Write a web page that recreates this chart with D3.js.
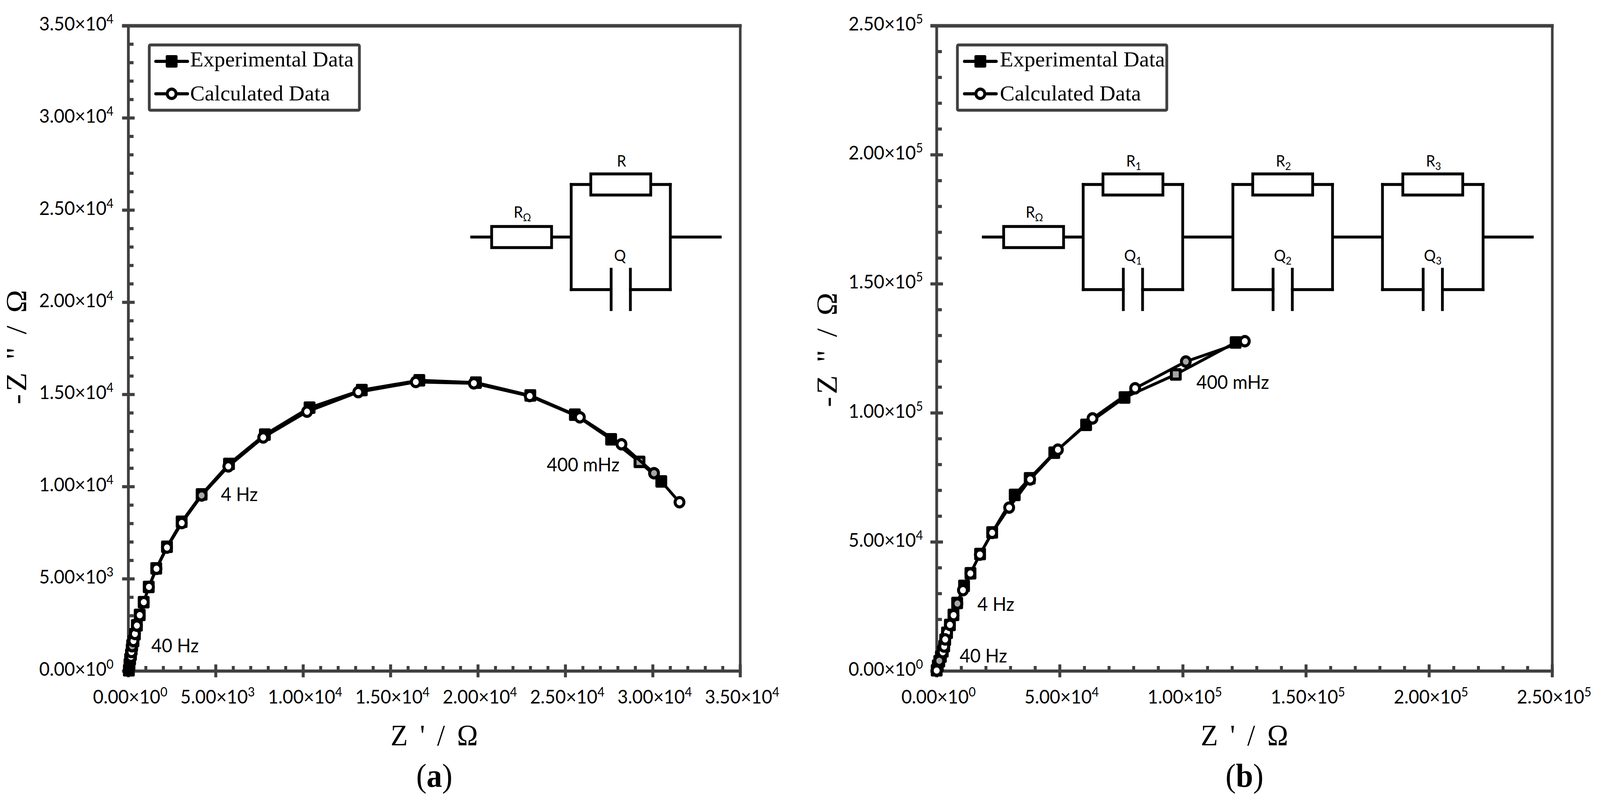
<!DOCTYPE html>
<html>
<head>
<meta charset="utf-8">
<script src="https://cdn.jsdelivr.net/npm/d3@7/dist/d3.min.js"></script>
<style>
  html, body { margin: 0; padding: 0; background: #fff; overflow: hidden; }
  svg { display: block; width: 100vw; height: 100vh; }
</style>
</head>
<body>
<svg id="chart" viewBox="0 0 4325 2052" preserveAspectRatio="none"></svg>
<script>
// panel (a), ordered from the origin outwards
var expXA = [28, 63, 100, 148, 190, 218, 290, 374, 487, 649, 875, 1164, 1595, 2208, 3047, 4190, 5755, 7808, 10365, 13352, 16642, 19880, 22990, 25540, 27614, 29236, 30483];
var expYA = [42, 360, 642, 890, 1172, 1400, 1632, 2000, 2480, 3050, 3738, 4565, 5569, 6741, 8098, 9582, 11236, 12826, 14289, 15243, 15773, 15646, 14950, 13907, 12572, 11349, 10289];
var calcXA = [148, 176, 218, 290, 374, 487, 649, 882, 1178, 1608, 2208, 3054, 4190, 5717, 7713, 10220, 13150, 16441, 19763, 22959, 25826, 28206, 30068, 31525];
var calcYA = [784, 1032, 1350, 1632, 2014, 2466, 3032, 3738, 4565, 5547, 6699, 8028, 9525, 11102, 12671, 14070, 15130, 15681, 15610, 14918, 13765, 12303, 10734, 9158];
var greyExpA = [25];
var greyCalcA = [2, 12, 22];

// panel (b)
var expXB = [0, 450, 1050, 1700, 2450, 3050, 3450, 4200, 5360, 6810, 8310, 11110, 13720, 17620, 22530, 31690, 37770, 47760, 60680, 76290, 97100, 121410];
var expYB = [303, 2070, 3835, 5600, 7620, 9640, 12160, 14840, 17870, 21750, 26400, 33000, 37900, 45370, 53700, 68270, 74700, 84590, 95380, 105980, 114930, 127320];
var calcXB = [0, 1050, 2450, 3050, 4200, 3450, 5360, 6860, 8410, 10660, 13670, 17530, 22530, 29430, 37950, 49230, 63280, 80590, 101180, 125130];
var calcYB = [200, 3980, 7300, 9500, 14940, 12260, 17910, 21650, 26150, 31340, 37800, 45120, 53550, 63340, 74250, 85780, 97880, 109550, 119910, 127800];
var greyExpB = [20];
var greyCalcB = [1, 8, 18];

var ticksA = [0, 5000, 10000, 15000, 20000, 25000, 30000, 35000];
var ticksB = [0, 50000, 100000, 150000, 200000, 250000];
var seriesNames = ["Experimental Data", "Calculated Data"];

var INK = "#000";
var AXIS = "#404040";
var GREY = "#a6a6a6";
var LABEL_FONT = "Lato, sans-serif";
var SERIF = "'Liberation Serif', serif";
var TOP = 66, BOTTOM = 1717;
var MARK_HALF = 12;

var svg = d3.select("#chart");

function sciParts(v) {
	if (v === 0) return ["0.00", "0"];
	var p = v.toExponential(2).split("e+");
	return [p[0], p[1]];
}

function writeTick(text, d) {
	var p = sciParts(d);
	text.text(null);
	text.append("tspan").text(p[0] + "×10");
	text.append("tspan").attr("dy", -18).attr("font-size", 33).text(p[1]);
}

function drawPanel(cfg) {
	var g = svg.append("g");
	var x = d3.scaleLinear().domain([0, cfg.max]).range([cfg.left, cfg.right]);
	var y = d3.scaleLinear().domain([0, cfg.max]).range([BOTTOM, TOP]);
	var minor = d3.range(0, cfg.max + 1, cfg.max / (cfg.ticks.length - 1) / 5)
		.filter(function(v){ return cfg.ticks.indexOf(v) < 0; });

	function styleAxis(sel) {
		sel.select(".domain").remove();
		sel.selectAll("line").attr("stroke", AXIS).attr("stroke-width", 8);
	}

	// inward ticks, minor then major
	g.append("g").attr("transform", "translate(0," + BOTTOM + ")")
		.call(d3.axisBottom(x).tickValues(minor).tickSize(-13).tickFormat("").offset(0)).call(styleAxis);
	g.append("g").attr("transform", "translate(" + cfg.left + ",0)")
		.call(d3.axisLeft(y).tickValues(minor).tickSize(-14).tickFormat("").offset(0)).call(styleAxis);
	g.append("g").attr("transform", "translate(0," + BOTTOM + ")")
		.call(d3.axisBottom(x).tickValues(cfg.ticks).tickSize(-17).tickFormat("").offset(0)).call(styleAxis);
	g.append("g").attr("transform", "translate(" + cfg.left + ",0)")
		.call(d3.axisLeft(y).tickValues(cfg.ticks).tickSize(-17).tickFormat("").offset(0)).call(styleAxis);

	// outward ticks carrying the labels
	var xAxis = g.append("g").attr("transform", "translate(0," + BOTTOM + ")")
		.call(d3.axisBottom(x).tickValues(cfg.ticks).tickSize(16).offset(0)).call(styleAxis);
	xAxis.selectAll("text")
		.attr("y", 83).attr("dy", 0).attr("x", 5)
		.attr("font-family", LABEL_FONT).attr("font-size", 49).attr("fill", INK)
		.each(function(d){ writeTick(d3.select(this), d); });

	var yAxis = g.append("g").attr("transform", "translate(" + cfg.left + ",0)")
		.call(d3.axisLeft(y).tickValues(cfg.ticks).tickSize(17).offset(0)).call(styleAxis);
	yAxis.selectAll("text")
		.attr("x", -cfg.yLabelGap).attr("dy", 12)
		.attr("text-anchor", "end")
		.attr("font-family", LABEL_FONT).attr("font-size", 49).attr("fill", INK)
		.each(function(d){ writeTick(d3.select(this), d); });

	// frame
	var frame = [
		[x(0) - 17, y(cfg.max), x(cfg.max) + 4, y(cfg.max), 9],
		[x(0) - 17, y(0), x(cfg.max) + 4, y(0), 8],
		[x(0), y(cfg.max), x(0), y(0), 7.5],
		[x(cfg.max), y(cfg.max), x(cfg.max), y(0) + 16, 7]
	];
	g.selectAll(".frame").data(frame).enter().append("line")
		.attr("x1", function(d){ return d[0]; }).attr("y1", function(d){ return d[1]; })
		.attr("x2", function(d){ return d[2]; }).attr("y2", function(d){ return d[3]; })
		.attr("stroke", AXIS).attr("stroke-width", function(d){ return d[4]; });

	drawSeries(g, x, y, cfg);
	drawLegend(g, cfg);
	drawCircuit(g, cfg);

	// axis titles
	g.append("text").attr("x", (cfg.left + cfg.right) / 2).attr("y", 1907)
		.attr("text-anchor", "middle").attr("font-family", SERIF).attr("font-size", 76)
		.attr("textLength", 236).attr("lengthAdjust", "spacing").attr("fill", INK)
		.text("Z ' / Ω");
	g.append("text").attr("transform", "translate(" + cfg.yTitleX + "," + cfg.yTitleY + ") rotate(-90)")
		.attr("text-anchor", "middle").attr("font-family", SERIF).attr("font-size", 79)
		.attr("textLength", 293).attr("lengthAdjust", "spacing").attr("fill", INK)
		.text('-Z " / Ω');

	var tag = g.append("text").attr("x", (cfg.left + cfg.right) / 2).attr("y", 2013)
		.attr("text-anchor", "middle").attr("font-family", SERIF).attr("font-size", 84).attr("fill", INK);
	tag.append("tspan").text("(");
	tag.append("tspan").attr("font-weight", "bold").text(cfg.tag);
	tag.append("tspan").text(")");

	// frequency notes
	g.selectAll(".note").data(cfg.notes).enter().append("text")
		.attr("x", function(d){ return d.x; }).attr("y", function(d){ return d.y; })
		.attr("font-family", LABEL_FONT).attr("font-size", 49).attr("fill", INK)
		.text(function(d){ return d.text; });
}

function drawSeries(g, x, y, cfg) {
	var line = d3.line().x(function(d){ return x(d[0]); }).y(function(d){ return y(d[1]); });
	var exp = d3.zip(cfg.expX, cfg.expY);
	var calc = d3.zip(cfg.calcX, cfg.calcY);

	g.append("path").attr("d", line(exp)).attr("fill", "none")
		.attr("stroke", INK).attr("stroke-width", 7.5).attr("stroke-linejoin", "round");
	g.selectAll(".exp").data(exp).enter().append("rect")
		.attr("x", function(d){ return x(d[0]) - MARK_HALF; })
		.attr("y", function(d){ return y(d[1]) - MARK_HALF; })
		.attr("width", MARK_HALF * 2).attr("height", MARK_HALF * 2)
		.attr("fill", function(d, i){ return cfg.greyExp.indexOf(i) >= 0 ? GREY : INK; })
		.attr("stroke", INK).attr("stroke-width", 8).attr("stroke-linejoin", "round");

	g.append("path").attr("d", line(calc)).attr("fill", "none")
		.attr("stroke", INK).attr("stroke-width", 7.5).attr("stroke-linejoin", "round");
	g.selectAll(".calc").data(calc).enter().append("circle")
		.attr("cx", function(d){ return x(d[0]); })
		.attr("cy", function(d){ return y(d[1]); })
		.attr("r", MARK_HALF)
		.attr("fill", function(d, i){ return cfg.greyCalc.indexOf(i) >= 0 ? GREY : "#fff"; })
		.attr("stroke", INK).attr("stroke-width", 8);
}

function drawLegend(g, cfg) {
	var L = cfg.legend;
	g.append("rect").attr("x", L.x).attr("y", 115).attr("width", L.w).attr("height", 167)
		.attr("rx", 3).attr("fill", "#fff").attr("stroke", AXIS).attr("stroke-width", 7.5);

	var rows = [
		{ name: seriesNames[0], y: 157, base: 170, len: L.len, square: true },
		{ name: seriesNames[1], y: 240, base: 257, len: L.len * 0.855, square: false }
	];
	rows.forEach(function(r){
		g.append("line").attr("x1", L.lineX).attr("x2", L.lineX + 86).attr("y1", r.y).attr("y2", r.y)
			.attr("stroke", INK).attr("stroke-width", 8).attr("stroke-linecap", "round");
		if (r.square) {
			g.append("rect").attr("x", L.lineX + 43 - MARK_HALF).attr("y", r.y - MARK_HALF)
				.attr("width", MARK_HALF * 2).attr("height", MARK_HALF * 2)
				.attr("fill", INK).attr("stroke", INK).attr("stroke-width", 8).attr("stroke-linejoin", "round");
		} else {
			g.append("circle").attr("cx", L.lineX + 43).attr("cy", r.y).attr("r", MARK_HALF)
				.attr("fill", "#fff").attr("stroke", INK).attr("stroke-width", 8);
		}
		g.append("text").attr("x", L.textX).attr("y", r.base)
			.attr("font-family", SERIF).attr("font-size", 56).attr("fill", INK)
			.attr("textLength", r.len).attr("lengthAdjust", "spacingAndGlyphs")
			.text(r.name);
	});
}

function wire(g, x1, y1, x2, y2) {
	g.append("line").attr("x1", x1).attr("y1", y1).attr("x2", x2).attr("y2", y2)
		.attr("stroke", INK).attr("stroke-width", 7.5).attr("stroke-linecap", "square");
}

function resistor(g, cx, cy) {
	g.append("rect").attr("x", cx - 81).attr("y", cy - 27).attr("width", 162).attr("height", 54)
		.attr("fill", "#fff").attr("stroke", INK).attr("stroke-width", 7.5);
}

function partLabel(g, cx, base, name, sub) {
	var t = g.append("text").attr("x", cx).attr("y", base).attr("text-anchor", "middle")
		.attr("font-family", LABEL_FONT).attr("font-size", 40).attr("fill", INK);
	t.append("tspan").text(name);
	if (sub) t.append("tspan").attr("font-size", 27).attr("dy", 9).text(sub);
}

function drawCircuit(g, cfg) {
	var C = cfg.circuit, mid = 606.5, up = 472, down = 741;
	wire(g, C.start, mid, C.end, mid);
	resistor(g, C.rOmega, mid);
	partLabel(g, C.rOmega + 2, 557, "R", "Ω");
	C.loops.forEach(function(l){
		var cx = (l.left + l.right) / 2;
		// blank the series wire inside the loop
		g.append("rect").attr("x", l.left).attr("y", mid - 6).attr("width", l.right - l.left).attr("height", 12).attr("fill", "#fff");
		wire(g, l.left, up, l.left, down);
		wire(g, l.right, up, l.right, down);
		wire(g, l.left, up, l.right, up);
		wire(g, l.left, down, cx - 26, down);
		wire(g, cx + 26, down, l.right, down);
		resistor(g, cx, up);
		wire(g, cx - 26, 689, cx - 26, 792);
		wire(g, cx + 26, 689, cx + 26, 792);
		partLabel(g, cx + 2, 426, "R", l.sub);
		partLabel(g, cx - (l.sub ? 0 : 2), 668, "Q", l.sub);
	});
}

drawPanel({
	tag: "a", max: 35000, ticks: ticksA, left: 347, right: 2001, yLabelGap: 40,
	expX: expXA, expY: expYA, calcX: calcXA, calcY: calcYA, greyExp: greyExpA, greyCalc: greyCalcA,
	yTitleX: 71, yTitleY: 888,
	legend: { x: 403.5, w: 568, lineX: 421, textX: 514, len: 442 },
	notes: [
		{ text: "40 Hz", x: 409, y: 1669 },
		{ text: "4 Hz", x: 597, y: 1282 },
		{ text: "400 mHz", x: 1478, y: 1206 }
	],
	circuit: { start: 1275, end: 1947, rOmega: 1410, loops: [{ left: 1544, right: 1812, sub: "" }] }
});

drawPanel({
	tag: "b", max: 250000, ticks: ticksB, left: 2532, right: 4196, yLabelGap: 37,
	expX: expXB, expY: expYB, calcX: calcXB, calcY: calcYB, greyExp: greyExpB, greyCalc: greyCalcB,
	yTitleX: 2262, yTitleY: 895,
	legend: { x: 2588, w: 566, lineX: 2607, textX: 2703, len: 446 },
	notes: [
		{ text: "40 Hz", x: 2594, y: 1695 },
		{ text: "4 Hz", x: 2642, y: 1563 },
		{ text: "400 mHz", x: 3234, y: 995 }
	],
	circuit: {
		start: 2658, end: 4142, rOmega: 2794,
		loops: [
			{ left: 2928, right: 3197, sub: "1" },
			{ left: 3332.6, right: 3602, sub: "2" },
			{ left: 3737, right: 4009, sub: "3" }
		]
	}
});
</script>
</body>
</html>
